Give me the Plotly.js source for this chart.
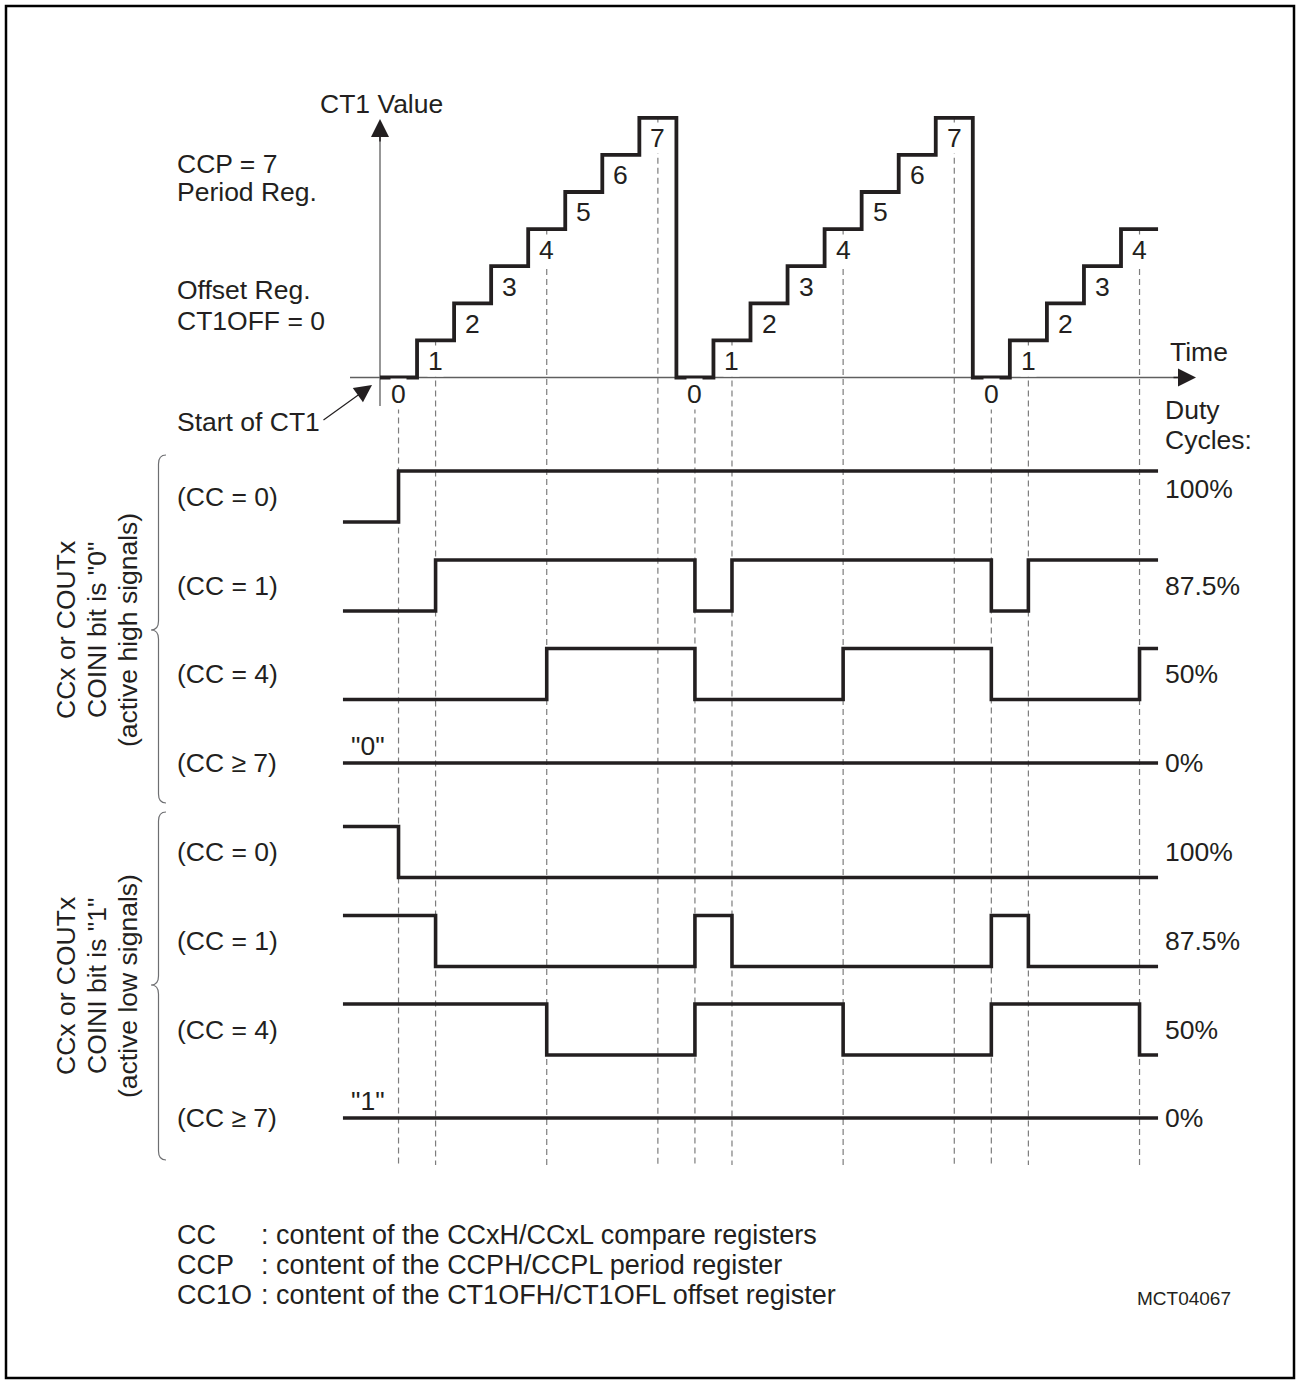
<!DOCTYPE html>
<html><head><meta charset="utf-8">
<script src="https://cdn.plot.ly/plotly-3.0.1.min.js"></script>
<style>html,body{margin:0;padding:0;background:#fff;}#chart{width:1298px;height:1384px;}</style>
</head><body><div id="chart"></div>
<script>
// ---------------- data ----------------
// CT1 counter value for each clock step (CCP = 7, offset = 0)
const ct1Steps = [0,1,2,3,4,5,6,7, 0,1,2,3,4,5,6,7, 0,1,2,3,4];
// counter values at which the compare events are marked (dashed lines)
const markedValues = [0,1,4,7];

// output waveforms: edge times (in clock steps) and logic level after each edge
const edgesCC0 = [-1, 0.5, 21];
const edgesCC1 = [-1, 1.5, 8.5, 9.5, 16.5, 17.5, 21];
const edgesCC4 = [-1, 4.5, 8.5, 12.5, 16.5, 20.5, 21];
const edgesCC7 = [-1, 21];
const highCC0 = [0,1,1];
const highCC1 = [0,1,0,1,0,1,1];
const highCC4 = [0,1,0,1,0,1,1];
const highCC7 = [0,0];
const lowCC0 = [1,0,0];
const lowCC1 = [1,0,1,0,1,0,0];
const lowCC4 = [1,0,1,0,1,0,0];
const lowCC7 = [1,1];

const rowLabels = ['(CC = 0)','(CC = 1)','(CC = 4)','(CC \u2265 7)'];
const dutyLabels = ['100%','87.5%','50%','0%'];
const constLabels = ['"0"','"1"'];
const groupHigh = ['CCx or COUTx','COINI bit is "0"','(active high signals)'];
const groupLow = ['CCx or COUTx','COINI bit is "1"','(active low signals)'];
const noteKeys = ['CC','CCP','CC1O'];
const noteTexts = [': content of the CCxH/CCxL compare registers',
                   ': content of the CCPH/CCPL period register',
                   ': content of the CT1OFH/CT1OFL offset register'];

// ---------------- layout geometry ----------------
const W = 1298, H = 1384;
const X0 = 380, UX = 37.05;     // pixel of t=0, pixels per clock step
const Y0 = 377.5, UY = 37.1;    // pixel of CT1=0, pixels per count
const tOf = px => (px - X0) / UX;
const vOf = py => (Y0 - py) / UY;
const PX = x => x / W, PY = y => 1 - y / H;
const FONT = 'Liberation Sans, Arial, Helvetica, sans-serif';
const INK = '#231f20';
const FS = 26.5;
const AMP = 51;
const LPAD = 2.5;   // annotation inner padding compensation

const traces = [];
const annotations = [];
const shapes = [];

// dashed compare markers
const dashX = [], dashY = [];
const vBottom = vOf(1165);
ct1Steps.forEach((v, i) => {
  if (markedValues.includes(v)) { dashX.push(i + 0.5, i + 0.5, null); dashY.push(v, vBottom, null); }
});
traces.push({x: dashX, y: dashY, xaxis: 'x', yaxis: 'y', mode: 'lines',
  line: {color: '#7d7d7d', width: 1.2, dash: '6px,4px'}, hoverinfo: 'skip'});

// staircase
const stX = ct1Steps.map((_, i) => i).concat([ct1Steps.length]);
const stY = ct1Steps.concat([ct1Steps[ct1Steps.length - 1]]);
traces.push({x: stX, y: stY, xaxis: 'x', yaxis: 'y', mode: 'lines',
  line: {color: INK, width: 3.8, shape: 'hv'}, hoverinfo: 'skip'});

// step labels
ct1Steps.forEach((v, i) => {
  annotations.push({xref: 'x', yref: 'y', x: i + 0.5, y: v === 0 ? -0.45 : v - 0.55,
    text: String(v), showarrow: false, bgcolor: '#ffffff', borderpad: 0,
    font: {family: FONT, size: FS, color: INK}});
});

// waveform rows
const rowsHigh = [[edgesCC0, highCC0],[edgesCC1, highCC1],[edgesCC4, highCC4],[edgesCC7, highCC7]];
const rowsLow = [[edgesCC0, lowCC0],[edgesCC1, lowCC1],[edgesCC4, lowCC4],[edgesCC7, lowCC7]];
const lowPxHigh = [522, 611, 699.5, 763];     // pixel of level 0 for each row
const lowPxLow = [877.5, 966.5, 1055, 1169];
const dutyShift = [[8,0,0,0],[0,0,0,0]];

const layout = {
  width: W, height: H, margin: {l: 0, r: 0, t: 0, b: 0, pad: 0},
  paper_bgcolor: '#ffffff', plot_bgcolor: 'rgba(0,0,0,0)', showlegend: false,
  xaxis: {domain: [0, 1], range: [tOf(0), tOf(W)], visible: false, anchor: 'y', fixedrange: true},
  yaxis: {domain: [0, 1], range: [vOf(H), vOf(0)], visible: false, anchor: 'x', fixedrange: true}
};

let axisN = 2;
[[rowsHigh, lowPxHigh, 0], [rowsLow, lowPxLow, 1]].forEach(([rows, lowPx, g]) => {
  rows.forEach(([edges, levels], r) => {
    const n = axisN++;
    const yl = lowPx[r];
    const bot = yl + 0.35 * AMP, top = yl - 1.35 * AMP;
    layout['yaxis' + n] = {domain: [PY(bot), PY(top)], range: [-0.35, 1.35], visible: false, anchor: 'x', fixedrange: true};
    traces.push({x: edges, y: levels, xaxis: 'x', yaxis: 'y' + n, mode: 'lines',
      line: {color: INK, width: 3.6, shape: 'hv'}, hoverinfo: 'skip'});
    const flat = levels.every(v => v === levels[0]);
    const ly = flat ? levels[0] : 0.5;
    annotations.push({xref: 'paper', yref: 'y' + n, x: PX(177 - LPAD), y: ly, text: rowLabels[r],
      showarrow: false, xanchor: 'left', yanchor: 'middle', font: {family: FONT, size: FS, color: INK}});
    annotations.push({xref: 'paper', yref: 'y' + n, x: PX(1165 - LPAD), y: ly, yshift: dutyShift[g][r], text: dutyLabels[r],
      showarrow: false, xanchor: 'left', yanchor: 'middle', font: {family: FONT, size: FS, color: INK}});
    if (flat) {
      annotations.push({xref: 'x', yref: 'y' + n, x: tOf(368), y: levels[0], yshift: 17, text: constLabels[g],
        showarrow: false, xanchor: 'center', yanchor: 'middle', font: {family: FONT, size: FS, color: INK}});
    }
  });
});

// top chart axes
const AX = '#5f5f5f';
shapes.push({type: 'line', xref: 'x', yref: 'y', x0: tOf(350), x1: tOf(1188), y0: 0, y1: 0, layer: 'below', line: {color: AX, width: 1.3}});
shapes.push({type: 'line', xref: 'x', yref: 'y', x0: 0, x1: 0, y0: vOf(406), y1: vOf(128), layer: 'below', line: {color: AX, width: 1.3}});
annotations.push({xref: 'x', yref: 'y', axref: 'x', ayref: 'y', x: tOf(1196), y: 0, ax: tOf(1172), ay: 0, text: '',
  showarrow: true, arrowhead: 2, arrowsize: 2.4, arrowwidth: 1.5, arrowcolor: INK, standoff: 0});
annotations.push({xref: 'x', yref: 'y', axref: 'x', ayref: 'y', x: 0, y: vOf(119), ax: 0, ay: vOf(143), text: '',
  showarrow: true, arrowhead: 2, arrowsize: 2.4, arrowwidth: 1.5, arrowcolor: INK, standoff: 0});
// start arrow
annotations.push({xref: 'x', yref: 'y', axref: 'x', ayref: 'y', x: tOf(372), y: vOf(385), ax: tOf(322), ay: vOf(421), text: '',
  showarrow: true, arrowhead: 2, arrowsize: 2.9, arrowwidth: 1.2, arrowcolor: INK, standoff: 0});

// free text
function T(x, y, text, size, extra) {
  annotations.push(Object.assign({xref: 'paper', yref: 'paper', x: PX(x - LPAD), y: PY(y), text: text, showarrow: false,
    xanchor: 'left', yanchor: 'middle', font: {family: FONT, size: size || FS, color: INK}}, extra || {}));
}
T(320, 104, 'CT1 Value');
T(177, 164, 'CCP = 7');
T(177, 192, 'Period Reg.');
T(177, 290, 'Offset Reg.');
T(177, 321, 'CT1OFF = 0');
T(177, 422, 'Start of CT1');
T(1170, 352, 'Time');
T(1165, 410, 'Duty');
T(1165, 440, 'Cycles:');
T(1137, 1298, 'MCT04067', 19);
noteKeys.forEach((k, i) => {
  T(177, 1235 + 30 * i, k, 27);
  T(261, 1235 + 30 * i, noteTexts[i], 27);
});
[[groupHigh, 630], [groupLow, 986]].forEach(([lines, yc]) => {
  lines.forEach((s, i) => {
    annotations.push({xref: 'paper', yref: 'paper', x: PX(66 + 31 * i), y: PY(yc), text: s, showarrow: false,
      xanchor: 'center', yanchor: 'middle', textangle: -90, font: {family: FONT, size: FS, color: INK}});
  });
});

// braces
function brace(xEnd, xSpine, xTip, yTop, yMid, yBot, r) {
  const p = (x, y) => PX(x).toFixed(5) + ',' + PY(y).toFixed(5);
  return 'M' + p(xEnd, yTop) + ' Q' + p(xSpine, yTop) + ' ' + p(xSpine, yTop + r) +
    ' L' + p(xSpine, yMid - r) + ' Q' + p(xSpine, yMid) + ' ' + p(xTip, yMid) +
    ' Q' + p(xSpine, yMid) + ' ' + p(xSpine, yMid + r) +
    ' L' + p(xSpine, yBot - r) + ' Q' + p(xSpine, yBot) + ' ' + p(xEnd, yBot);
}
shapes.push({type: 'path', xref: 'paper', yref: 'paper', path: brace(166, 158.5, 151, 455, 630, 803, 9), line: {color: '#6d6e71', width: 1.2}});
shapes.push({type: 'path', xref: 'paper', yref: 'paper', path: brace(166, 158.5, 151, 812, 985, 1160, 9), line: {color: '#6d6e71', width: 1.2}});

// frame
shapes.push({type: 'rect', xref: 'paper', yref: 'paper', x0: PX(6), x1: PX(1294), y0: PY(6), y1: PY(1378), line: {color: '#000', width: 2.5}});

layout.annotations = annotations;
layout.shapes = shapes;
Plotly.newPlot('chart', traces, layout, {staticPlot: true, displayModeBar: false});
</script></body></html>
